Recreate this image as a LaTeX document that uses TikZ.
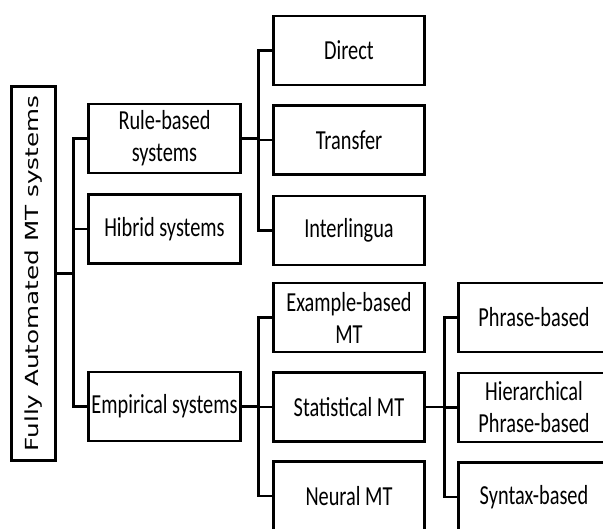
\documentclass[tikz,border=0pt]{standalone}
\usepackage{fontspec}
\setmainfont[FakeStretch=0.74]{Carlito}
\newfontfamily\rootfont[FakeStretch=1.37]{DejaVu Sans}
\begin{document}
\begin{tikzpicture}[x=1pt,y=-1pt,
  box/.style={draw, line width=2.8pt, inner sep=0pt, align=center,
    minimum width=151pt, minimum height=69pt,
    font=\fontsize{27.5}{32}\selectfont},
  link/.style={line width=2.8pt}]
\useasboundingbox (0,0) rectangle (603,529);
\clip (0,0) rectangle (603,529);

% root
\node[draw, line width=2.8pt, inner sep=0pt, minimum width=44pt, minimum height=374pt]
  (root) at (33.5,273.5)
  {\rotatebox{90}{\rootfont\fontsize{18}{20}\selectfont Fully Automated MT systems}};

% first level
\node[box, minimum width=152pt] (rule) at (164.5,138.5) {Rule-based\\systems};
\node[box, minimum width=152pt] (hib)  at (164.5,229)   {Hibrid systems};
\node[box, minimum width=152pt] (emp)  at (164.5,406.5) {Empirical systems};

% rule-based branch
\node[box] (direct) at (349,50.5)  {Direct};
\node[box] (trans)  at (349,140)   {Transfer};
\node[box] (inter)  at (349,230.5) {Interlingua};

% empirical branch
\node[box] (ebmt) at (349,317.5) {Example-based\\MT};
\node[box] (smt)  at (349,407)   {Statistical MT};
\node[box] (nmt)  at (349,496)   {Neural MT};

% statistical branch
\node[box] (pb)   at (534,317.5) {Phrase-based};
\node[box] (hpb)  at (534,407.5) {Hierarchical\\Phrase-based};
\node[box] (syn)  at (534,497)   {Syntax-based};

% connectors
\foreach \c in {rule,hib,emp}
  \draw[link] (root.east) -- ++(16.5,0) |- (\c.west);
\foreach \c in {direct,trans,inter}
  \draw[link] (rule.east) -- ++(16.5,0) |- (\c.west);
\foreach \c in {ebmt,smt,nmt}
  \draw[link] (emp.east) -- ++(16.5,0) |- (\c.west);
\foreach \c in {pb,hpb,syn}
  \draw[link] (smt.east) -- ++(18.5,0) |- (\c.west);
\end{tikzpicture}
\end{document}
